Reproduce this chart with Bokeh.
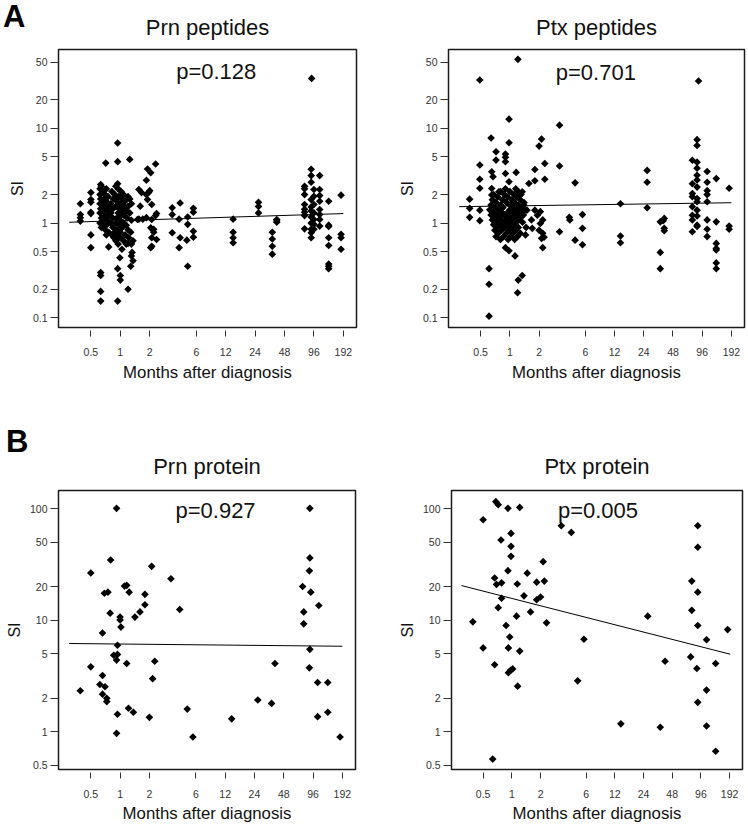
import numpy as np
from bokeh.plotting import figure
from bokeh.layouts import row, column
from bokeh.models import Range1d, FixedTicker, CustomJSTickFormatter, Label, Div
from bokeh.embed import file_html
from bokeh.resources import INLINE

FONT = "Liberation Sans"

# ---------------- data ----------------
month_ticks = [0.5, 1, 2, 6, 12, 24, 48, 96, 192]
si_ticks_peptides = [0.1, 0.2, 0.5, 1, 2, 5, 10, 20, 50]
si_ticks_protein = [0.5, 1, 2, 5, 10, 20, 50, 100]

titles = ["Prn peptides", "Ptx peptides", "Prn protein", "Ptx protein"]
p_values = ["p=0.128", "p=0.701", "p=0.927", "p=0.005"]
panel_letters = ["A", "B"]

# (months after diagnosis, SI)
prn_peptides = [
    (0.39, 1.6), (0.39, 1.23), (0.39, 1.14), (0.39, 1.05),
    (0.5, 2.1), (0.5, 1.77), (0.5, 1.66), (0.5, 1.3), (0.5, 1.26), (0.5, 0.75), (0.5, 0.55),
    (0.63, 2.55), (0.63, 0.30), (0.63, 0.28), (0.63, 0.19), (0.63, 0.15),
    (0.71, 4.3), (0.94, 7.0), (0.94, 4.45), (0.94, 2.6), (0.94, 0.33), (0.94, 0.15), (1.25, 4.7),
    (0.64, 2.45), (0.9, 2.45), (0.62, 2.3), (0.72, 2.3), (0.95, 2.3),
    (0.66, 2.15), (0.82, 2.15), (1.02, 2.15), (0.62, 2.0), (0.7, 2.0), (0.88, 2.0), (1.08, 2.0),
    (0.75, 1.9), (0.96, 1.9), (1.2, 1.9), (0.63, 1.8), (0.68, 1.8), (0.85, 1.8), (1.05, 1.8), (1.25, 1.8),
    (0.72, 1.7), (0.92, 1.7), (1.12, 1.7), (0.62, 1.6), (0.66, 1.6), (0.8, 1.6), (1.0, 1.6), (1.3, 1.6),
    (0.7, 1.5), (0.76, 1.5), (0.9, 1.5), (1.1, 1.5), (1.2, 1.5), (0.63, 1.42), (0.84, 1.42), (0.98, 1.42),
    (0.67, 1.35), (0.74, 1.35), (1.05, 1.35), (1.15, 1.35), (0.62, 1.28), (0.8, 1.28), (0.95, 1.28), (1.25, 1.28),
    (0.7, 1.2), (0.76, 1.2), (1.02, 1.2), (1.1, 1.2), (0.64, 1.13), (0.84, 1.13), (0.92, 1.13), (1.18, 1.13),
    (0.68, 1.07), (0.74, 1.07), (1.0, 1.07), (1.3, 1.07), (0.62, 1.0), (0.8, 1.0), (0.9, 1.0), (1.08, 1.0),
    (0.66, 0.95), (0.72, 0.95), (0.98, 0.95), (1.15, 0.95), (0.64, 0.9), (0.84, 0.9), (1.05, 0.9),
    (0.7, 0.85), (0.92, 0.85), (1.2, 0.85), (0.76, 0.8), (0.88, 0.8), (1.0, 0.8), (1.28, 0.8),
    (0.82, 0.75), (0.94, 0.75), (1.12, 0.75), (0.86, 0.7), (1.0, 0.7), (1.22, 0.7),
    (0.9, 0.65), (1.08, 0.65), (1.35, 0.65), (0.95, 0.6), (1.15, 0.6), (1.3, 0.6),
    (0.93, 0.67), (1.04, 0.53), (1.2, 0.61), (1.32, 0.49), (1.28, 0.35), (0.99, 0.43), (1.0, 0.28),
    (1.0, 0.25), (1.2, 0.2), (1.3, 0.45), (1.35, 0.4), (0.76, 0.56), (0.72, 0.75),
    (1.55, 2.26), (1.65, 2.1), (1.85, 2.0), (1.9, 1.77), (2.1, 1.57), (1.6, 1.51), (2.35, 1.26),
    (1.5, 1.09), (1.85, 1.14), (2.1, 1.09), (2.05, 0.89), (2.2, 0.86), (2.1, 0.7), (2.35, 0.67),
    (2.05, 0.55), (2.1, 0.57), (1.9, 3.72), (2.3, 4.2), (2.05, 3.4), (1.85, 2.83), (1.7, 1.1),
    (1.55, 1.1), (2.2, 0.8), (2.3, 1.2), (2.0, 2.2), (1.95, 2.1),
    (3.4, 1.45), (3.4, 1.23), (3.4, 0.79), (4.1, 1.63), (4.0, 1.1), (4.1, 0.7), (4.0, 0.55),
    (4.9, 1.16), (4.9, 0.97), (4.8, 0.66), (4.9, 0.35), (5.6, 1.43), (5.6, 1.3), (5.6, 0.82), (5.6, 0.71),
    (14.3, 1.1), (14.3, 0.8), (14.3, 0.7), (14.3, 0.62), (26, 1.66), (26, 1.5), (26, 1.28),
    (36, 0.8), (36, 0.68), (36, 0.57), (36, 0.47), (40, 1.09), (40, 1.02), (40, 1.05),
    (77, 2.45), (77, 2.3), (77, 2.0), (77, 1.57), (77, 1.4), (77, 1.3), (77, 1.2), (77, 0.87),
    (90, 3.7), (90, 3.17), (90, 2.7), (90, 1.77), (90, 1.48), (90, 1.34), (90, 1.16), (90, 1.0),
    (90, 0.86), (90, 0.79), (90, 0.7),
    (96, 2.26), (96, 1.92), (96, 1.57), (96, 1.28), (96, 1.09), (96, 0.97), (96, 0.86),
    (110, 3.17), (110, 2.26), (110, 1.95), (110, 1.7), (110, 1.39), (110, 1.23), (110, 1.09), (110, 0.93),
    (136, 1.7), (136, 0.95), (136, 0.92), (136, 0.7), (136, 0.58), (136, 0.37), (136, 0.35), (136, 0.33),
    (182, 1.97), (182, 0.76), (182, 0.7), (182, 0.53), (91, 33.7),
]

ptx_peptides = [
    (0.385, 1.79), (0.385, 1.43), (0.385, 1.15),
    (0.49, 32.4), (0.49, 4.1), (0.49, 2.9), (0.49, 2.33), (0.49, 1.37), (0.49, 1.06),
    (0.61, 0.33), (0.61, 0.226), (0.61, 0.104), (0.64, 7.9),
    (0.65, 3.48), (0.65, 2.32), (0.65, 1.98), (0.67, 3.09), (0.72, 5.66), (0.72, 4.62), (0.77, 2.14),
    (0.9, 5.35), (0.9, 4.94), (0.9, 4.44), (0.9, 3.34), (0.9, 0.55),
    (0.98, 12.5), (0.98, 7.05), (0.98, 2.73), (0.98, 0.51), (1.13, 0.45), (1.16, 3.43), (1.21, 53.5),
    (1.34, 2.14), (1.34, 0.28), (1.22, 0.25), (1.2, 0.184), (1.57, 2.62),
    (1.81, 3.68), (1.81, 2.8), (1.81, 1.37), (2.0, 6.5), (2.0, 0.84), (2.12, 7.7),
    (2.29, 4.26), (2.29, 2.9), (3.25, 10.8), (3.25, 4.0), (3.25, 0.81),
    (2.18, 0.55), (2.18, 0.78), (2.18, 1.08), (2.12, 0.69),
    (1.39, 1.55), (1.5, 1.37), (1.92, 1.21), (2.06, 1.32), (2.06, 0.99), (1.67, 1.08),
    (1.47, 0.9), (1.7, 0.88), (1.45, 0.75), (2.25, 0.71),
    (0.9, 2.3), (1.15, 2.3), (0.8, 2.15), (1.0, 2.15), (1.22, 2.15),
    (0.68, 2.0), (0.88, 2.0), (1.1, 2.0), (1.3, 2.0), (0.75, 1.88), (0.95, 1.88), (1.18, 1.88),
    (0.66, 1.76), (0.84, 1.76), (1.05, 1.76), (1.28, 1.76), (0.72, 1.65), (0.92, 1.65), (1.12, 1.65), (1.4, 1.65),
    (0.64, 1.55), (0.8, 1.55), (1.0, 1.55), (1.22, 1.55), (0.7, 1.46), (0.85, 1.46), (1.08, 1.46), (1.32, 1.46),
    (0.62, 1.38), (0.76, 1.38), (1.0, 1.38), (1.18, 1.38), (1.42, 1.38),
    (0.68, 1.3), (0.82, 1.3), (0.95, 1.3), (1.1, 1.3), (1.28, 1.3),
    (0.64, 1.22), (0.74, 1.22), (0.88, 1.22), (1.04, 1.22), (1.2, 1.22), (1.38, 1.22),
    (0.7, 1.15), (0.8, 1.15), (0.96, 1.15), (1.12, 1.15), (1.3, 1.15),
    (0.66, 1.08), (0.77, 1.08), (0.9, 1.08), (1.06, 1.08), (1.24, 1.08),
    (0.72, 1.02), (0.85, 1.02), (1.0, 1.02), (1.16, 1.02), (1.35, 1.02),
    (0.68, 0.96), (0.8, 0.96), (0.94, 0.96), (1.1, 0.96), (0.74, 0.9), (0.88, 0.9), (1.04, 0.9), (1.22, 0.9),
    (0.7, 0.84), (0.82, 0.84), (0.98, 0.84), (1.15, 0.84), (0.76, 0.78), (0.92, 0.78), (1.08, 0.78), (1.28, 0.78),
    (0.72, 0.72), (0.86, 0.72), (1.02, 0.72), (1.2, 0.72), (0.8, 0.67), (0.96, 0.67), (1.12, 0.67),
    (4.1, 1.15), (4.15, 1.08), (4.7, 2.66), (4.7, 0.66), (5.6, 1.23), (5.6, 0.88), (5.6, 0.59),
    (13.8, 1.6), (13.8, 0.73), (13.8, 0.62), (26, 3.6), (26, 2.7), (26, 1.45),
    (35.5, 0.49), (35.5, 0.33), (35.5, 1.03), (39, 1.12), (39, 0.88), (39, 0.83), (38, 1.06),
    (76, 4.6), (76, 2.6), (76, 2.05), (76, 1.9), (76, 1.49), (76, 1.21), (76, 1.08), (76, 0.81),
    (85, 7.6), (85, 6.6), (85, 4.4), (85, 3.8), (85, 3.2), (85, 2.85), (85, 2.4), (85, 1.82),
    (85, 1.68), (85, 1.37), (85, 1.19), (85, 0.95), (85, 0.92), (88, 31.6),
    (108, 3.5), (108, 2.7), (108, 2.2), (108, 2.0), (108, 1.68), (108, 1.08), (108, 0.86), (108, 0.72),
    (134, 2.95), (134, 1.03), (134, 0.61), (134, 0.54), (134, 0.52), (134, 0.38), (134, 0.33),
    (182, 2.33), (182, 0.93), (182, 0.86),
]

prn_protein = [
    (0.92, 101), (0.5, 26.6), (0.80, 34.8), (2.11, 30.5), (3.33, 23.6), (89, 101), (89, 36.3), (88, 27.8),
    (0.39, 2.34), (0.5, 3.83), (0.66, 7.7), (0.66, 3.2), (0.62, 2.66), (0.70, 2.54), (0.66, 2.18),
    (0.73, 2.0), (0.73, 1.87), (0.69, 17.5), (0.75, 17.9), (0.79, 11.6), (0.86, 4.87), (0.94, 4.95),
    (0.92, 4.4), (0.94, 5.98), (0.94, 1.44), (0.92, 0.97), (1.0, 10.7), (1.0, 10.1), (1.02, 8.7),
    (1.11, 20.3), (1.17, 20.6), (1.24, 17.9), (1.17, 4.1), (1.22, 1.63), (1.37, 1.5), (1.42, 10.7),
    (1.6, 11.9), (1.8, 13.8), (1.8, 17.1), (2.0, 1.35), (2.16, 3.0), (2.27, 4.3), (4.1, 12.5),
    (4.9, 1.6), (5.6, 0.9), (14, 1.31), (26, 1.93), (36, 1.8), (39, 4.1), (75, 20.1), (77, 11.9),
    (77, 9.3), (89, 5.5), (91, 17.9), (88, 3.75), (110, 13.6), (107, 2.77), (107, 1.37),
    (136, 2.77), (136, 1.5), (182, 0.9),
]

ptx_protein = [
    (0.5, 79.8), (0.68, 116), (0.72, 109), (0.91, 101), (1.21, 103), (0.77, 52.5), (0.98, 46.1),
    (0.98, 60.2), (0.98, 37.5), (0.91, 27.9), (1.45, 26.5), (2.13, 33.6), (3.3, 70.5), (4.2, 61.5),
    (89, 70.5), (89, 45.2), (0.39, 9.7), (0.5, 5.66), (0.66, 24.0), (0.69, 21), (0.78, 21.7),
    (0.72, 13), (0.78, 15.8), (0.87, 9.0), (0.92, 5.66), (0.95, 7.1), (0.92, 3.39), (0.97, 3.57),
    (1.02, 3.67), (0.66, 4.0), (0.63, 0.57), (1.14, 21.2), (1.12, 10.9), (1.21, 5.3), (1.15, 2.57),
    (1.34, 16.6), (1.57, 11.9), (1.82, 22), (1.82, 15.3), (2.0, 16.2), (2.19, 22.5), (2.31, 9.5),
    (4.9, 2.87), (5.7, 6.77), (13.9, 1.18), (26.6, 10.9), (36, 1.1), (40.4, 4.3), (77, 22.5),
    (77, 12.3), (75, 4.7), (89, 17.9), (89, 9.0), (87, 3.7), (89, 1.84), (110, 6.7), (110, 2.37),
    (110, 1.13), (137, 4.1), (137, 0.67), (183, 8.26),
]

# regression lines: endpoints (months, SI)
prn_pep_fit_x, prn_pep_fit_y = [0.3, 192], [1.02, 1.26]
ptx_pep_fit_x, ptx_pep_fit_y = [0.3, 192], [1.49, 1.64]
prn_prot_fit_x, prn_prot_fit_y = [0.3, 192], [6.2, 5.86]
ptx_prot_fit_x, ptx_prot_fit_y = [0.297, 195], [20.5, 4.97]

# ---------------- drawing ----------------
X_RANGE = (0.233, 262)
Y_RANGE_PEP = (0.079, 68)
Y_RANGE_PROT = (0.46, 146)


def panel(title, pts, fit_x, fit_y, p_text, p_xy, y_rng, y_ticks,
          w, h, bl, br, bt, bb, title_standoff, tick_standoff, xlabel_standoff):
    months = [a for a, b in pts]
    si = [b for a, b in pts]
    p = figure(width=w, height=h, x_axis_type="log", y_axis_type="log",
               x_range=Range1d(*X_RANGE), y_range=Range1d(*y_rng),
               output_backend="svg", toolbar_location=None,
               min_border_left=bl, min_border_right=br,
               min_border_top=bt, min_border_bottom=bb, title=title)
    p.title.align = "center"
    p.title.text_font = FONT
    p.title.text_font_size = "22px"
    p.title.text_font_style = "normal"
    p.title.text_color = "#111111"
    p.title.standoff = title_standoff
    p.xgrid.visible = False
    p.ygrid.visible = False
    p.outline_line_color = "#1a1a1a"
    p.outline_line_width = 1.5
    p.background_fill_color = "white"
    p.border_fill_color = None

    fmt = "return String(tick);"
    xa = p.xaxis[0]
    xa.ticker = FixedTicker(ticks=month_ticks, minor_ticks=[])
    xa.formatter = CustomJSTickFormatter(code=fmt)
    xa.axis_line_color = None
    xa.major_tick_in = -3
    xa.major_tick_out = 9
    xa.major_tick_line_color = "#333333"
    xa.minor_tick_line_color = None
    xa.major_label_text_font = FONT
    xa.major_label_text_font_size = "10.5px"
    xa.major_label_text_color = "#333333"
    xa.major_label_standoff = tick_standoff
    xa.axis_label = "Months after diagnosis"
    xa.axis_label_text_font = FONT
    xa.axis_label_text_font_size = "16.8px"
    xa.axis_label_text_font_style = "normal"
    xa.axis_label_text_color = "#111111"
    xa.axis_label_standoff = xlabel_standoff

    ya = p.yaxis[0]
    ya.ticker = FixedTicker(ticks=y_ticks, minor_ticks=[])
    ya.formatter = CustomJSTickFormatter(code=fmt)
    ya.axis_line_color = None
    ya.major_tick_in = 0
    ya.major_tick_out = 8
    ya.major_tick_line_color = "#333333"
    ya.minor_tick_line_color = None
    ya.major_label_text_font = FONT
    ya.major_label_text_font_size = "10.5px"
    ya.major_label_text_color = "#333333"
    ya.major_label_standoff = 3
    ya.axis_label = "SI"
    ya.axis_label_text_font = FONT
    ya.axis_label_text_font_size = "16px"
    ya.axis_label_text_font_style = "normal"
    ya.axis_label_text_color = "#111111"
    ya.axis_label_standoff = 4

    p.line(fit_x, fit_y, line_color="black", line_width=1)
    p.scatter(months, si, marker="square", angle=np.pi / 4, size=5.4,
              fill_color="black", line_color=None)
    p.add_layout(Label(x=p_xy[0], y=p_xy[1], text=p_text, text_align="center",
                       text_baseline="middle", text_font=FONT,
                       text_font_size="22px", text_color="#111111"))
    return p


p1 = panel(titles[0], prn_peptides, prn_pep_fit_x, prn_pep_fit_y, p_values[0], (9.6, 39.7),
           Y_RANGE_PEP, si_ticks_peptides, 395, 440, 58, 39, 49, 112, 19, 11, 4)
p2 = panel(titles[1], ptx_peptides, ptx_pep_fit_x, ptx_pep_fit_y, p_values[1], (7.69, 38.8),
           Y_RANGE_PEP, si_ticks_peptides, 353, 440, 52, 4, 48, 113, 19, 11, 4)
p3 = panel(titles[2], prn_protein, prn_prot_fit_x, prn_prot_fit_y, p_values[2], (9.56, 96.8),
           Y_RANGE_PROT, si_ticks_protein, 395, 385, 58, 40, 50, 55, 23, 11, 3)
p4 = panel(titles[3], ptx_protein, ptx_prot_fit_x, ptx_prot_fit_y, p_values[3], (8.0, 96.8),
           Y_RANGE_PROT, si_ticks_protein, 353, 385, 49, 6, 50, 56, 23, 11, 3)

# panel letters (HTML text laid over the top-left corners of the two rows)
letter_style = {"font-family": FONT, "font-size": "31px", "font-weight": "bold",
                "line-height": "31px", "color": "black"}
div_a = Div(text=panel_letters[0], width=30, height=32, styles=letter_style,
            margin=(-439, 0, 407, 3))
div_b = Div(text=panel_letters[1], width=30, height=32, styles=letter_style,
            margin=(-399, 0, 367, 6))

layout = column(row(p1, p2), div_a, row(p3, p4), div_b)
open("out.html", "w").write(file_html(layout, INLINE))
